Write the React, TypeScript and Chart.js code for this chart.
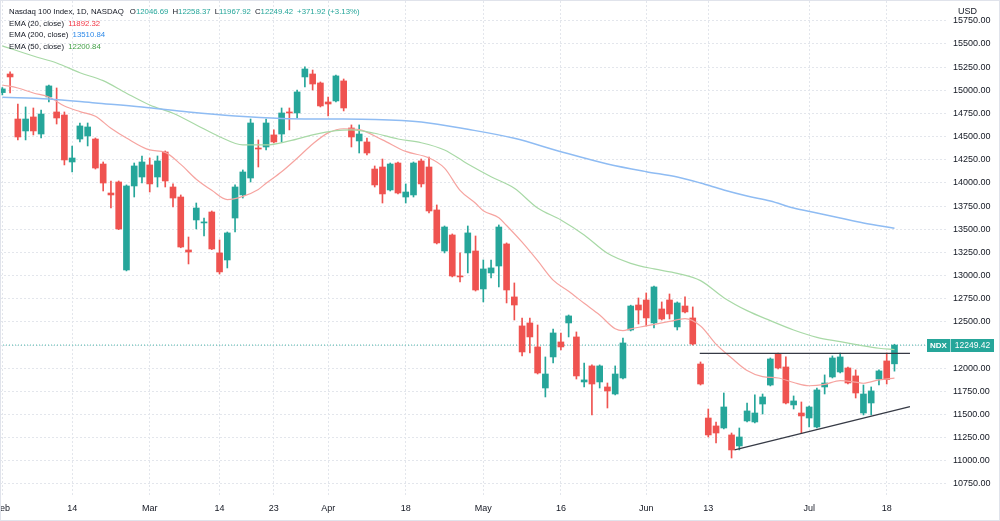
import React, { useEffect, useRef } from "react";
import { Chart, registerables } from "chart.js";

Chart.register(...registerables);

// Daily candles, trading days 1 Feb 2022 .. 19 Jul 2022 (index 0 = Feb 1)
const opens = [
  14975, 15176, 14690, 14561, 14712, 14528, 14928, 14766, 14733,
  14226, 14474, 14507, 14474, 14204, 13891, 14010, 13060, 13967, 14064,
  14194, 14064, 14334, 13956, 13848, 13276, 13600, 13568, 13686, 13244,
  13168, 13621, 13870, 14053, 14377, 14388, 14518, 14528, 14766, 14755,
  15144, 15176, 15079, 14874, 14885, 15101, 14593, 14453, 14442, 14150,
  14172, 13924, 14215, 13848, 13870, 14237, 14172, 13708, 13265, 13438,
  12995, 13244, 13265, 12855, 13028, 13103, 13341, 12769, 12456, 12488,
  12229, 11786, 12121, 12283, 12488, 12337, 11851, 12024, 11851, 11797,
  11721, 11894, 12412, 12682, 12736, 12488, 12639, 12736, 12445, 12671,
  12542, 12045, 11462, 11376, 11354, 11279, 11160, 11430, 11419, 11613,
  11818, 12153, 12013, 11603, 11516, 11462, 11365, 11797, 11905, 11959,
  12002, 11916, 11516, 11624, 11883, 12078, 12046.69,
];
const highs = [
  15030, 15198, 14852, 14820, 14809, 14787, 15057, 15025, 14766,
  14399, 14647, 14647, 14485, 14226, 14021, 14021, 13978, 14215, 14291,
  14269, 14291, 14345, 13989, 13870, 13416, 13783, 13621, 13697, 13384,
  13470, 13978, 14140, 14690, 14464, 14690, 14572, 14809, 14809, 15003,
  15252, 15219, 15090, 14928, 15165, 15122, 14626, 14626, 14485, 14183,
  14258, 14215, 14226, 13989, 14226, 14258, 14280, 13762, 13535, 13449,
  13244, 13535, 13427, 13168, 13168, 13546, 13352, 12920, 12542, 12542,
  12466, 12121, 12423, 12380, 12574, 12391, 12056, 12035, 12035, 11840,
  12024, 12326, 12680, 12758, 12812, 12887, 12715, 12801, 12715, 12769,
  12661, 12067, 11559, 11419, 11732, 11300, 11354, 11624, 11711, 11721,
  12110, 12164, 12121, 11700, 11635, 11590, 11786, 11927, 12132, 12164,
  12013, 11981, 11818, 11797, 11981, 12164, 12258.37,
];
const lows = [
  14950, 14971, 14464, 14464, 14518, 14485, 14874, 14636, 14194,
  14118, 14442, 14399, 14150, 13913, 13729, 13495, 13050, 13848, 13999,
  13902, 13956, 13956, 13740, 13300, 13125, 13503, 13427, 13280, 13017,
  13082, 13470, 13837, 14010, 14172, 14356, 14431, 14442, 14572, 14701,
  15036, 15003, 14820, 14723, 14874, 14777, 14388, 14323, 14302, 13956,
  13783, 13913, 13881, 13783, 13848, 13956, 13676, 13341, 13244, 12985,
  12931, 13028, 12833, 12715, 12974, 12877, 12704, 12520, 12132, 12164,
  11937, 11689, 12056, 12196, 12337, 11883, 11797, 11495, 11786, 11570,
  11711, 11884, 12402, 12477, 12456, 12434, 12520, 12531, 12412, 12596,
  12250, 11818, 11257, 11192, 11344, 11030, 11117, 11419, 11408, 11505,
  11808, 11991, 11614, 11559, 11300, 11365, 11354, 11721, 11894, 11948,
  11830, 11678, 11495, 11495, 11818, 11829, 11967.92,
];
const closes = [
  15015, 15144, 14496, 14690, 14561, 14744, 15047, 14701, 14248,
  14269, 14615, 14604, 14161, 13999, 13870, 13503, 13967, 14183, 14226,
  13989, 14237, 14021, 13837, 13308, 13254, 13729, 13578, 13287, 13039,
  13460, 13956, 14118, 14647, 14366, 14647, 14442, 14755, 14755, 14982,
  15230, 15068, 14831, 14852, 15155, 14809, 14496, 14528, 14323, 13978,
  13881, 14204, 13891, 13902, 14215, 13989, 13697, 13352, 13524, 12995,
  12985, 13460, 12844, 13071, 13082, 13524, 12844, 12682, 12175, 12337,
  11948, 11937, 12380, 12229, 12564, 11916, 11873, 11829, 12024, 11754,
  11937, 12272, 12671, 12628, 12542, 12877, 12531, 12585, 12704, 12607,
  12261, 11829, 11279, 11300, 11581, 11117, 11257, 11538, 11516, 11689,
  12099, 12002, 11624, 11646, 11484, 11581, 11765, 11840, 12110, 12121,
  11840, 11732, 11721, 11754, 11970, 11877.5, 12249.42,
];

// Time axis labels (trading-day index -> text)
const tickDays = [0, 9, 19, 28, 35, 42, 52, 62, 72, 83, 91, 104, 114];
const tickLabels = ["Feb", "14", "Mar", "14", "23", "Apr", "18", "May", "16", "Jun", "13", "Jul", "18"];

// Price scale labels
const priceTicks = [
  10750, 11000, 11250, 11500, 11750, 12000, 12250, 12500, 12750, 13000,
  13250, 13500, 13750, 14000, 14250, 14500, 14750, 15000, 15250, 15500, 15750,
];

// Moving averages (day index, value)
const ema20Days = [0, 2, 4, 6, 8, 10, 12, 14, 16, 19, 21, 23, 25, 27, 29, 31, 33, 34, 36, 38, 40, 42, 44, 46, 49, 52, 55, 57, 59, 61, 62, 64, 65, 67, 69, 71, 73, 75, 77, 79, 80, 81, 83, 86, 88, 90, 92, 94, 96, 98, 100, 102, 104, 106, 108, 110, 111, 113, 115];
const ema20 = [15057, 15025, 14971, 14928, 14830, 14770, 14720, 14590, 14485, 14356, 14330, 14200, 14040, 13920, 13820, 13855, 13930, 13996, 14120, 14266, 14420, 14540, 14585, 14575, 14465, 14340, 14270, 14160, 13920, 13780, 13700, 13625, 13540, 13360, 13160, 12950, 12830, 12700, 12574, 12425, 12405, 12425, 12456, 12505, 12535, 12456, 12260, 12110, 11975, 11908, 11894, 11845, 11810, 11825, 11865, 11850, 11837, 11873, 11892.32];

const ema50Days = [0, 4, 7, 10, 13, 16, 19, 22, 25, 28, 31, 34, 37, 40, 43, 45, 48, 51, 54, 57, 60, 63, 66, 69, 72, 75, 78, 81, 84, 87, 90, 93, 96, 99, 102, 105, 108, 111, 113, 115];
const ema50 = [15480, 15370, 15295, 15190, 15104, 14968, 14841, 14752, 14626, 14499, 14410, 14410, 14453, 14518, 14564, 14572, 14536, 14474, 14434, 14356, 14204, 14067, 13942, 13729, 13600, 13438, 13240, 13132, 13071, 13024, 12945, 12761, 12621, 12513, 12412, 12333, 12286, 12240, 12215, 12200.84];

const ema200Days = [0, 6, 12, 18, 24, 30, 36, 42, 48, 54, 60, 66, 72, 78, 83, 87, 90, 93, 96, 99, 102, 105, 108, 111, 115];
const ema200 = [14925, 14906, 14863, 14820, 14766, 14723, 14696, 14690, 14685, 14658, 14579, 14482, 14337, 14204, 14121, 14064, 13999, 13924, 13859, 13805, 13729, 13676, 13621, 13568, 13510.84];

// Drawn trend lines
const resistanceDays = [89.9, 117];
const resistance = [12160, 12160];
const supportDays = [94.4, 117];
const support = [11117, 11584];

const lastPrice = closes[closes.length - 1];

const UP = "#26a69a";
const DOWN = "#ef5350";
const TEXT = "#131722";
const FONT = "'Liberation Sans', Arial, sans-serif";
const X_MIN = -0.3;
const X_MAX = 121.9;

const pts = (days: number[], vals: number[]) => days.map((d, k) => ({ x: d, y: vals[k] }));

const priceTagPlugin = {
  id: "priceTag",
  afterDraw(chart: any) {
    const { ctx, chartArea } = chart;
    const y = chart.scales.y;
    ctx.save();
    // currency caption over the price scale
    ctx.fillStyle = "#ffffff";
    ctx.fillRect(chartArea.right + 1, 1, 48, 16);
    ctx.fillStyle = TEXT;
    ctx.font = `9px ${FONT}`;
    ctx.textBaseline = "middle";
    ctx.textAlign = "left";
    ctx.fillText("USD", chartArea.right + 10, 12);

    // last price tag
    const py = Math.round(y.getPixelForValue(lastPrice));
    const left = chartArea.right - 21;
    ctx.fillStyle = UP;
    ctx.fillRect(left, py - 6, 67, 13);
    ctx.fillStyle = "rgba(255,255,255,0.6)";
    ctx.fillRect(left + 23, py - 6, 1, 13);
    ctx.fillStyle = "#ffffff";
    ctx.textAlign = "center";
    ctx.font = `bold 8px ${FONT}`;
    ctx.fillText("NDX", left + 11.5, py + 0.5);
    ctx.font = `8.5px ${FONT}`;
    ctx.fillText(lastPrice.toFixed(2), left + 45.5, py + 0.5);
    ctx.restore();
  },
};

export default function App() {
  const canvasRef = useRef<HTMLCanvasElement | null>(null);

  useEffect(() => {
    document.body.style.margin = "0";
    const canvas = canvasRef.current;
    if (!canvas) return;
    const colors = closes.map((c, k) => (c >= opens[k] ? UP : DOWN));
    const bodies = opens.map((o, k) => ({ x: k, y: [o, closes[k]] }));
    const wicks = lows.map((l, k) => ({ x: k, y: [l, highs[k]] }));

    const chart = new Chart(canvas, {
      type: "bar",
      data: {
        datasets: [
          {
            type: "line",
            label: "EMA 200",
            data: pts(ema200Days, ema200),
            borderColor: "#8fbcf3",
            borderWidth: 1.5,
            pointRadius: 0,
            cubicInterpolationMode: "monotone",
            order: 1,
          },
          {
            type: "line",
            label: "EMA 50",
            data: pts(ema50Days, ema50),
            borderColor: "#a8d9a6",
            borderWidth: 1.2,
            pointRadius: 0,
            cubicInterpolationMode: "monotone",
            order: 1,
          },
          {
            type: "line",
            label: "EMA 20",
            data: pts(ema20Days, ema20),
            borderColor: "#f6a4a0",
            borderWidth: 1.2,
            pointRadius: 0,
            cubicInterpolationMode: "monotone",
            order: 1,
          },
          {
            type: "line",
            label: "Last",
            data: [
              { x: X_MIN, y: lastPrice },
              { x: X_MAX, y: lastPrice },
            ],
            borderColor: "rgba(38,166,154,0.8)",
            borderWidth: 1,
            borderDash: [1, 2],
            pointRadius: 0,
            order: 3,
          },
          {
            type: "line",
            label: "Resistance",
            data: pts(resistanceDays, resistance),
            borderColor: "#363a45",
            borderWidth: 1.3,
            pointRadius: 0,
            order: 0,
          },
          {
            type: "line",
            label: "Support",
            data: pts(supportDays, support),
            borderColor: "#363a45",
            borderWidth: 1.3,
            pointRadius: 0,
            order: 0,
          },
          {
            type: "bar",
            label: "Wicks",
            data: wicks as any,
            backgroundColor: colors,
            barThickness: 1,
            grouped: false,
            order: 2,
          },
          {
            type: "bar",
            label: "Bodies",
            data: bodies as any,
            backgroundColor: colors,
            barThickness: 6,
            minBarLength: 1,
            grouped: false,
            order: 2,
          },
        ],
      },
      options: {
        animation: false,
        responsive: false,
        devicePixelRatio: 1,
        layout: { padding: { top: 1, left: 0, right: 0, bottom: 0 } },
        plugins: { legend: { display: false }, tooltip: { enabled: false } },
        scales: {
          x: {
            type: "linear",
            min: X_MIN,
            max: X_MAX,
            offset: false,
            grid: { offset: false, color: "#e3e6ec", drawTicks: false, lineWidth: 1 },
            border: { display: false, dash: [2, 2] },
            ticks: {
              autoSkip: false,
              maxRotation: 0,
              padding: 6,
              color: TEXT,
              font: { family: FONT, size: 9 },
              callback: (_v: any, i: number) => tickLabels[i],
            },
            afterBuildTicks: (s: any) => {
              s.ticks = tickDays.map((v) => ({ value: v }));
            },
            afterFit: (s: any) => {
              s.height = 24;
              s.paddingLeft = 0;
              s.paddingRight = 0;
            },
          },
          y: {
            type: "linear",
            position: "right",
            min: 10609,
            max: 15964,
            beginAtZero: false,
            grid: { color: "#e3e6ec", drawTicks: false, lineWidth: 1 },
            border: { display: false, dash: [2, 2] },
            ticks: {
              padding: 5,
              color: TEXT,
              font: { family: FONT, size: 9 },
              callback: (v: any) => Number(v).toFixed(2),
            },
            afterBuildTicks: (s: any) => {
              s.ticks = priceTicks.map((v) => ({ value: v }));
            },
            afterFit: (s: any) => {
              s.width = 52;
              s.paddingTop = 0;
              s.paddingBottom = 0;
            },
          },
        },
      } as any,
      plugins: [priceTagPlugin],
    });
    return () => chart.destroy();
  }, []);

  const n = closes.length - 1;
  const change = closes[n] - closes[n - 1];
  const pct = (change / closes[n - 1]) * 100;
  const f = (v: number) => v.toFixed(2);

  return (
    <div style={{ position: "relative", width: 1000, height: 521, background: "#fff", overflow: "hidden" }}>
      <canvas ref={canvasRef} width={1000} height={521} style={{ display: "block" }} />
      <div
        style={{
          position: "absolute",
          left: 9,
          top: 6,
          font: `7.8px ${FONT}`,
          lineHeight: "11.7px",
          color: TEXT,
          whiteSpace: "nowrap",
          pointerEvents: "none",
        }}
      >
        <div>
          Nasdaq 100 Index, 1D, NASDAQ
          <span style={{ marginLeft: 6 }}>O</span>
          <span style={{ color: UP }}>{f(opens[n])}</span>
          <span style={{ marginLeft: 4 }}>H</span>
          <span style={{ color: UP }}>{f(highs[n])}</span>
          <span style={{ marginLeft: 4 }}>L</span>
          <span style={{ color: UP }}>{f(lows[n])}</span>
          <span style={{ marginLeft: 4 }}>C</span>
          <span style={{ color: UP }}>{f(closes[n])}</span>
          <span style={{ color: UP, marginLeft: 4 }}>
            +{f(change)} (+{f(pct)}%)
          </span>
        </div>
        <div>
          EMA (20, close) <span style={{ color: "#f23645", marginLeft: 2 }}>{f(ema20[ema20.length - 1])}</span>
        </div>
        <div>
          EMA (200, close) <span style={{ color: "#2f8ae8", marginLeft: 2 }}>{f(ema200[ema200.length - 1])}</span>
        </div>
        <div>
          EMA (50, close) <span style={{ color: "#43a047", marginLeft: 2 }}>{f(ema50[ema50.length - 1])}</span>
        </div>
      </div>
      <div
        style={{
          position: "absolute",
          left: 0,
          top: 0,
          width: 998,
          height: 519,
          border: "1px solid #e0e3eb",
          pointerEvents: "none",
        }}
      />
    </div>
  );
}
